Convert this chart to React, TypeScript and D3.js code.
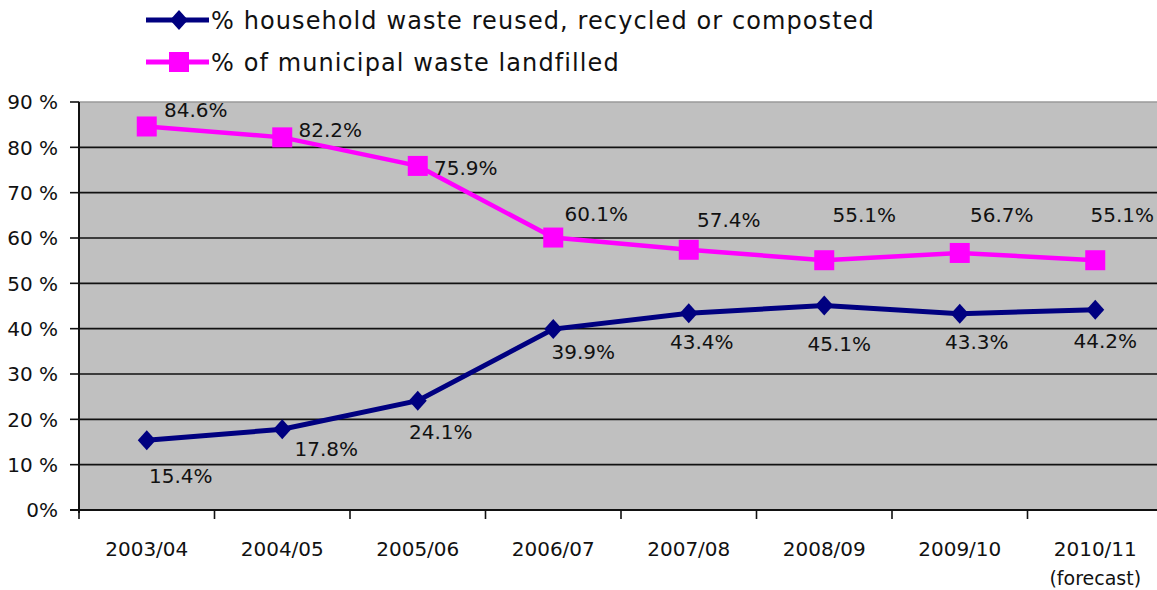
import * as React from "react";
import * as d3 from "d3";

const categories = ["2003/04", "2004/05", "2005/06", "2006/07", "2007/08", "2008/09", "2009/10", "2010/11"];
const recycled = [15.4, 17.8, 24.1, 39.9, 43.4, 45.1, 43.3, 44.2];
const landfilled = [84.6, 82.2, 75.9, 60.1, 57.4, 55.1, 56.7, 55.1];
const yTicks = [0, 10, 20, 30, 40, 50, 60, 70, 80, 90];
const seriesNames = ["% household waste reused, recycled or composted", "% of municipal waste landfilled"];

// label nudges (px) the way they sit in the original
const landfillLabelNudge = [[49, -17], [48, -8], [48, 2], [43, -24], [40, -30], [40, -45], [42, -38], [27, -45]];
const recycledLabelNudge = [[34, 36], [44, 19], [23, 31], [30, 23], [13, 29], [15, 38], [17, 28], [10, 31]];

const W = 1157;
const H = 590;
const font = "'DejaVu Sans', sans-serif";

export default function App() {
  const left = 79, top = 102, bottom = 510;
  const x = d3.scaleBand().domain(categories).range([left, left + 135.5 * categories.length]);
  const y = d3.scaleLinear().domain([0, 90]).range([bottom, top]);
  const cx = (i: number) => (x(categories[i]) as number) + x.bandwidth() / 2;

  const line = d3.line<number>().x((_, i) => cx(i)).y(d => y(d));
  const diamond = (px: number, py: number, s = 10) =>
    `M${px},${py - s}L${px + s * 0.9},${py}L${px},${py + s}L${px - s * 0.9},${py}Z`;

  return (
    <svg width={W} height={H} style={{ position: "absolute", left: 0, top: 0, background: "#fff" }} fontFamily={font}>
      {/* legend */}
      <g>
        <line x1={146} x2={209} y1={20} y2={20} stroke="#000080" strokeWidth={5} />
        <path d={diamond(179, 20)} fill="#000080" />
        <text x={211} y={20} dy="0.36em" fontSize={24} letterSpacing={1.1} fill="#111">{seriesNames[0]}</text>
        <line x1={146} x2={209} y1={62} y2={62} stroke="#ff00ff" strokeWidth={5} />
        <rect x={169} y={52} width={20} height={20} fill="#ff00ff" />
        <text x={211} y={62} dy="0.36em" fontSize={24} letterSpacing={1.1} fill="#111">{seriesNames[1]}</text>
      </g>

      {/* plot area */}
      <rect x={left} y={top} width={W - left} height={bottom - top} fill="#c0c0c0" />
      <line x1={left} x2={W} y1={top} y2={top} stroke="#9a9a9a" strokeWidth={1.5} />
      {yTicks.filter(t => t > 0 && t < 90).map(t => (
        <line key={t} x1={left} x2={W} y1={y(t)} y2={y(t)} stroke="#111" strokeWidth={1.6} />
      ))}

      {/* y axis */}
      <line x1={left} x2={left} y1={top} y2={bottom + 3} stroke="#111" strokeWidth={2} />
      {yTicks.map(t => (
        <g key={t}>
          <line x1={left - 9} x2={left} y1={y(t)} y2={y(t)} stroke="#111" strokeWidth={1.6} />
          <text x={58} y={y(t)} dy="0.36em" textAnchor="end" fontSize={20} fill="#111">
            {t === 0 ? "0%" : `${t} %`}
          </text>
        </g>
      ))}

      {/* x axis */}
      <line x1={left - 9} x2={W} y1={bottom} y2={bottom} stroke="#111" strokeWidth={2} />
      {categories.map((c, i) => (
        <g key={c}>
          <line x1={x(c) as number} x2={x(c) as number} y1={bottom} y2={bottom + 9} stroke="#111" strokeWidth={1.6} />
          <text x={cx(i)} y={549} dy="0.36em" textAnchor="middle" fontSize={20} fill="#111">{c}</text>
        </g>
      ))}
      <text x={cx(categories.length - 1)} y={578} dy="0.36em" textAnchor="middle" fontSize={19} fill="#111">(forecast)</text>

      {/* series */}
      <path d={line(landfilled) as string} fill="none" stroke="#ff00ff" strokeWidth={4.5} />
      <path d={line(recycled) as string} fill="none" stroke="#000080" strokeWidth={5} />
      {landfilled.map((v, i) => (
        <rect key={"l" + i} x={cx(i) - 10} y={y(v) - 10} width={20} height={20} fill="#ff00ff" />
      ))}
      {recycled.map((v, i) => (
        <path key={"r" + i} d={diamond(cx(i), y(v))} fill="#000080" />
      ))}

      {/* data labels */}
      {landfilled.map((v, i) => (
        <text key={"ll" + i} x={cx(i) + landfillLabelNudge[i][0]} y={y(v) + landfillLabelNudge[i][1]} dy="0.36em"
          textAnchor="middle" fontSize={20} fill="#111">{v.toFixed(1)}%</text>
      ))}
      {recycled.map((v, i) => (
        <text key={"rl" + i} x={cx(i) + recycledLabelNudge[i][0]} y={y(v) + recycledLabelNudge[i][1]} dy="0.36em"
          textAnchor="middle" fontSize={20} fill="#111">{v.toFixed(1)}%</text>
      ))}
    </svg>
  );
}
